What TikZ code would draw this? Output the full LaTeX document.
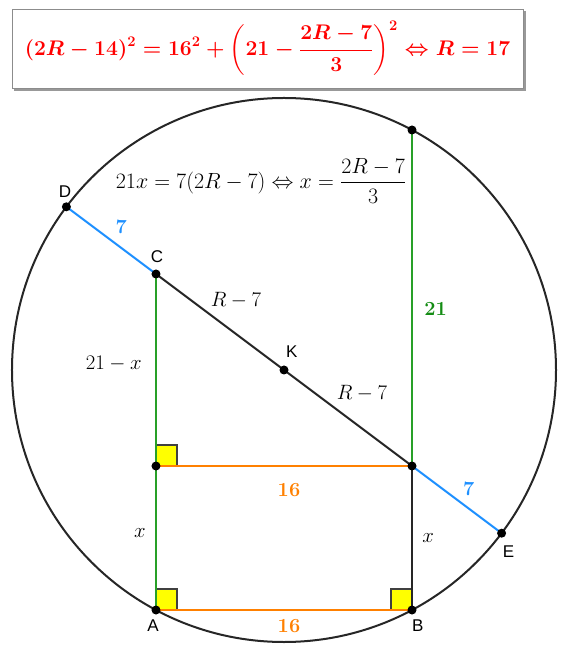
\documentclass[tikz,border=0pt]{standalone}
\usepackage{amsmath}
\usepackage{graphicx}
\usepackage{fontspec}
\setsansfont{Liberation Sans}
\usepackage{tikz}
\usetikzlibrary{positioning,calc}

\definecolor{geored}{RGB}{255,0,0}
\definecolor{geogreen}{RGB}{20,140,20}
\definecolor{linegreen}{RGB}{40,160,40}
\definecolor{geoorange}{RGB}{255,128,0}
\definecolor{geoblue}{RGB}{30,144,255}
\definecolor{geoyellow}{RGB}{255,255,0}

\begin{document}
\begin{tikzpicture}[
      x=16pt, y=16pt,
      mth/.style = {font=\fontsize{21}{25}\selectfont, text=black},
      dot/.style = {circle, fill=black, inner sep=0pt, minimum size=9pt},
      lbl/.style = {font=\sffamily\fontsize{17}{20}\selectfont, inner sep=1pt},
      num/.style = {font=\fontsize{20}{24}\selectfont\bfseries},
      seg/.style = {line width=2pt},
      rangle/.style = {fill=geoyellow, draw=black!75, line width=2pt},
      eqbox/.style = {draw=black!45, line width=0.8pt, fill=white, text=geored,
                      font=\fontsize{20.8}{24}\selectfont\boldmath,
                      minimum width=511pt, minimum height=79pt}
    ]
    \useasboundingbox (-284pt,-280pt) rectangle (281pt,370pt);

    % points of the figure
    \coordinate (K) at (0,0);
    \coordinate (A) at (-8,-15);
    \coordinate (B) at (8,-15);
    \coordinate (C) at (-8,6);
    \coordinate (Q) at (-8,-6);
    \coordinate (P) at (8,-6);
    \coordinate (T) at (8,15);
    \coordinate (D) at (-13.6,10.2);
    \coordinate (E) at (13.6,-10.2);
    \coordinate (M) at (-16.5pt,321.5pt);

    % formula box with its shadow
    \fill[black!40] ($(M)+(-253.5pt,-42.5pt)$) rectangle ($(M)+(258pt,37pt)$);
    \node[eqbox] (formula) at (M) {\scalebox{1.02}{$\displaystyle(2R-14)^2=16^2+\left(21-\frac{2R-7}{3}\right)^2\Leftrightarrow R=17$}};

    % right angles
    \draw[rangle] (Q) rectangle ++(21pt,21pt);
    \draw[rangle] (A) rectangle ++(21pt,21pt);
    \draw[rangle] (B) rectangle ++(-21pt,21pt);

    \draw[seg, black!85] (K) circle (17);

    \draw[seg, geoorange] (Q) -- node[num, below=13pt, xshift=5pt] {16} (P);
    \draw[seg, geoorange] (A) -- node[num, below=5pt, xshift=5pt] {16} (B);
    \draw[seg, linegreen] (C) -- node[mth, left=10pt, yshift=6pt] {$21-x$} (Q);
    \draw[seg, linegreen] (Q) -- node[mth, left=6pt, yshift=5pt] {$x$} (A);
    \draw[seg, linegreen] (P) -- node[num, right=8pt, yshift=-11pt, text=geogreen] {21} (T);
    \draw[seg, black!85] (P) -- node[mth, right=6pt] {$x$} (B);
    \draw[seg, geoblue] (D) -- node[num, above right=2pt and 0pt] {7} (C);
    \draw[seg, black!85] (C) -- node[mth, above=9pt, xshift=16pt] {$R-7$} (K);
    \draw[seg, black!85] (K) -- node[mth, above=12pt, xshift=14pt] {$R-7$} (P);
    \draw[seg, geoblue] (P) -- node[num, above right=0pt and 2pt] {7} (E);

    \node[mth, scale=1.06, transform shape] (rel) at (-23pt,189pt) {$\displaystyle 21x=7(2R-7)\Leftrightarrow x=\frac{2R-7}{3}$};

    % dots and names
    \foreach \p in {A,B,C,D,E,K,P,Q,T}
      \node[dot] at (\p) {};
    \node[lbl, below=9pt, xshift=-3pt] at (A) {A};
    \node[lbl, below right=9pt and -1pt] at (B) {B};
    \node[lbl, above=10pt, xshift=1pt] at (C) {C};
    \node[lbl, above left=8pt and -6pt] at (D) {D};
    \node[lbl, below right=11pt and 0pt] at (E) {E};
    \node[lbl, above right=11pt and 1pt] at (K) {K};
  \end{tikzpicture}
\end{document}
